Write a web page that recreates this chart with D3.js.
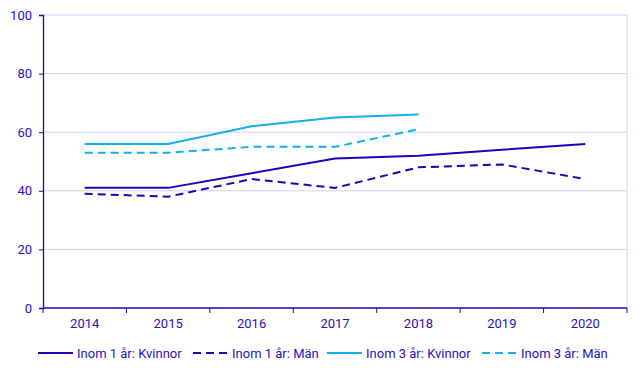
<!DOCTYPE html>
<html>
<head>
<meta charset="utf-8">
<script src="https://cdn.jsdelivr.net/npm/d3@7"></script>
<style>
  body { margin: 0; background: #fff; }
  svg text { font-family: Roboto, sans-serif; font-size: 13px; fill: #2a0fbf; }
</style>
</head>
<body>
<svg id="chart" width="643" height="373"></svg>
<script>
var years = ["2014", "2015", "2016", "2017", "2018", "2019", "2020"];
var yTicks = [0, 20, 40, 60, 80, 100];

var kvinnor1 = [41, 41, 46, 51, 52, 54, 56];
var man1 = [39, 38, 44, 41, 48, 49, 44];
var kvinnor3 = [56, 56, 62, 65, 66, null, null];
var man3 = [53, 53, 55, 55, 61, null, null];

var seriesNames = ["Inom 1 år: Kvinnor", "Inom 1 år: Män", "Inom 3 år: Kvinnor", "Inom 3 år: Män"];

var dark = "#2200b8", light = "#12b0ea", grid = "#d4d0f0";

var series = [
    { name: seriesNames[0], values: kvinnor1, color: dark, dash: null },
    { name: seriesNames[1], values: man1, color: dark, dash: "8,5" },
    { name: seriesNames[2], values: kvinnor3, color: light, dash: null },
    { name: seriesNames[3], values: man3, color: light, dash: "8,5" }
];

var svg = d3.select("#chart");
var plotLeft = 43, plotRight = 627, plotTop = 15, plotBottom = 308;

var x = d3.scaleBand().domain(years).range([plotLeft, plotRight]);
var y = d3.scaleLinear().domain([0, 100]).range([plotBottom, plotTop]);

// gridlines
svg.append("g")
    .selectAll("line")
    .data(yTicks.filter(function (d) { return d > 0; }))
    .enter().append("line")
    .attr("x1", plotLeft).attr("x2", plotRight)
    .attr("y1", function (d) { return y(d); })
    .attr("y2", function (d) { return y(d); })
    .attr("stroke", grid);

svg.append("line")
    .attr("x1", plotRight).attr("x2", plotRight)
    .attr("y1", plotTop).attr("y2", plotBottom)
    .attr("stroke", grid);

// y axis
var yAxis = svg.append("g")
    .attr("transform", "translate(" + plotLeft + ",0)")
    .call(d3.axisLeft(y).tickValues(yTicks).tickSize(4).tickPadding(7));
yAxis.select(".domain").attr("stroke", dark).attr("stroke-width", 1.3);
yAxis.selectAll(".tick line").attr("stroke", dark);
yAxis.selectAll("text").style("font-size", "13px").attr("fill", null);

// x axis with ticks on band edges
var xAxis = svg.append("g")
    .attr("transform", "translate(0," + plotBottom + ")")
    .call(d3.axisBottom(x).tickSize(0).tickPadding(11));
xAxis.select(".domain").remove();
xAxis.selectAll("text").style("font-size", "13px").attr("fill", null);

svg.append("line")
    .attr("x1", plotLeft).attr("x2", plotRight)
    .attr("y1", plotBottom).attr("y2", plotBottom)
    .attr("stroke", dark).attr("stroke-width", 1.3);

var edges = years.map(function (d) { return x(d); }).concat([plotRight]);
svg.append("g")
    .selectAll("line")
    .data(edges)
    .enter().append("line")
    .attr("x1", function (d) { return d; })
    .attr("x2", function (d) { return d; })
    .attr("y1", plotBottom).attr("y2", plotBottom + 5)
    .attr("stroke", dark);

// lines
var line = d3.line()
    .defined(function (d) { return d != null; })
    .x(function (d, i) { return x(years[i]) + x.bandwidth() / 2; })
    .y(function (d) { return y(d); });

svg.append("g")
    .selectAll("path")
    .data(series)
    .enter().append("path")
    .attr("d", function (d) { return line(d.values); })
    .attr("fill", "none")
    .attr("stroke", function (d) { return d.color; })
    .attr("stroke-width", 2)
    .attr("stroke-dasharray", function (d) { return d.dash; });

// legend
var legendX = [38, 193, 327, 482];
var legend = svg.append("g")
    .selectAll("g")
    .data(series)
    .enter().append("g")
    .attr("transform", function (d, i) { return "translate(" + legendX[i] + ",353)"; });

legend.append("line")
    .attr("x1", 0).attr("x2", 35)
    .attr("y1", 0).attr("y2", 0)
    .attr("stroke", function (d) { return d.color; })
    .attr("stroke-width", 2)
    .attr("stroke-dasharray", function (d) { return d.dash; });

legend.append("text")
    .attr("x", 39)
    .attr("y", 4.5)
    .text(function (d) { return d.name; });
</script>
</body>
</html>
